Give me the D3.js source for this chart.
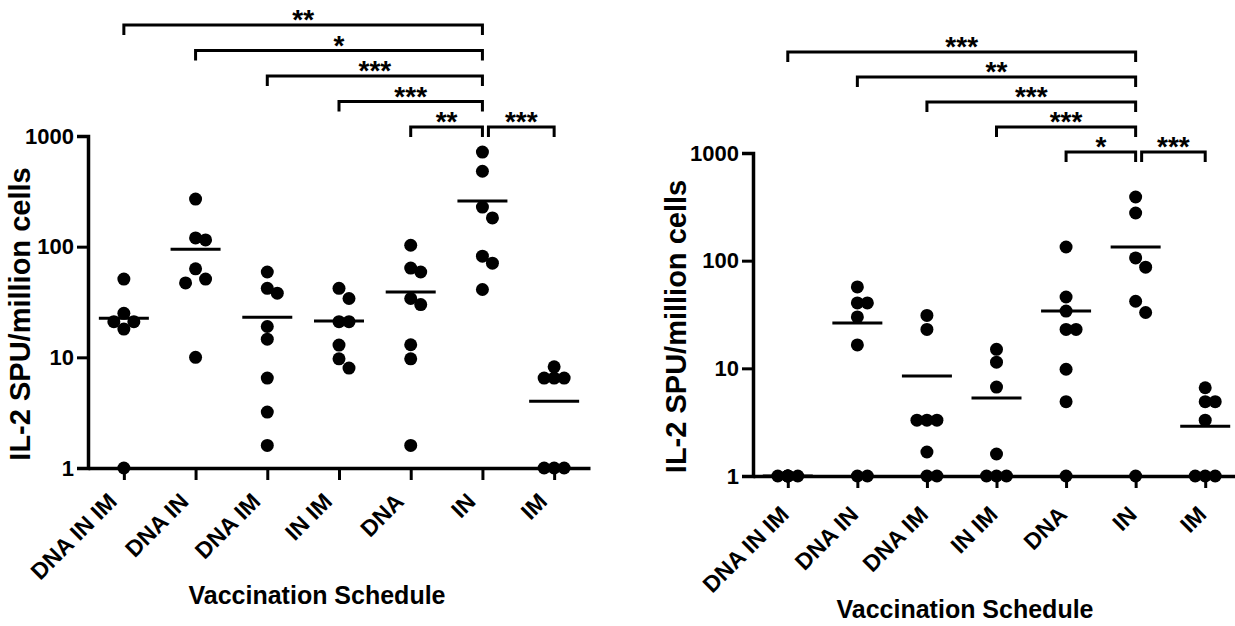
<!DOCTYPE html>
<html lang="en">
<head>
<meta charset="UTF-8">
<title>IL-2 SPU by vaccination schedule</title>
<script src="https://cdn.jsdelivr.net/npm/d3@7"></script>
<style>
  body { margin: 0; background: #fff; }
  svg { font-family: "Liberation Sans", Arial, sans-serif; font-weight: bold; }
</style>
</head>
<body>
<div id="chart"></div>
<script>
const schedules = ["DNA IN IM", "DNA IN", "DNA IM", "IN IM", "DNA", "IN", "IM"];
const yTicks = [1, 10, 100, 1000];

// left panel, IL-2 SPU/million cells per animal
const leftValues = [
  [51, 25, 21, 21, 18, 1],
  [269, 120, 115, 63, 51, 47, 10],
  [59, 42, 38, 19, 14.6, 6.5, 3.2, 1.6],
  [42, 34, 21, 21, 12.9, 9.7, 8],
  [103, 64, 59, 34, 30, 13, 9.7, 1.6],
  [716, 480, 228, 182, 82, 71, 41],
  [8.2, 6.5, 6.5, 6.5, 1, 1, 1]
];
const leftMeans = [22.6, 95, 23, 21.3, 39, 258, 4];
const leftSig = [
  ["DNA IN IM", "IN", "**"],
  ["DNA IN", "IN", "*"],
  ["DNA IM", "IN", "***"],
  ["IN IM", "IN", "***"],
  ["DNA", "IN", "**"],
  ["IN", "IM", "***"]
];

// right panel
const rightValues = [
  [1, 1, 1, 1, 1, 1],
  [57, 40.5, 40.5, 30, 16.5, 1, 1],
  [31, 23, 3.3, 3.3, 3.3, 1.67, 1, 1],
  [15, 11.4, 6.7, 1.6, 1, 1, 1],
  [134, 46, 34, 23, 23, 9.8, 4.9, 1],
  [390, 277, 106, 87, 42, 33, 1],
  [6.6, 4.9, 4.9, 3.3, 1, 1, 1]
];
const rightMeans = [1, 26.4, 8.5, 5.3, 34, 134, 2.9];
const rightSig = [
  ["DNA IN IM", "IN", "***"],
  ["DNA IN", "IN", "**"],
  ["DNA IM", "IN", "***"],
  ["IN IM", "IN", "***"],
  ["DNA", "IN", "*"],
  ["IN", "IM", "***"]
];

const svg = d3.select("#chart").append("svg")
    .attr("width", 1235)
    .attr("height", 626);

// simple dot-plot dodge, 3 columns max
function swarm(vals, y, step, minDist) {
    const placed = [];
    vals.slice().sort((a, b) => b - a).forEach(v => {
        const py = y(v);
        let best = 0, bestD = -1;
        for (const k of [0, 1, -1]) {
            const px = k * step;
            const d = placed.length ? d3.min(placed, p => Math.hypot(p.dx - px, p.py - py)) : Infinity;
            if (d >= minDist) { best = px; break; }
            if (d > bestD) { bestD = d; best = px; }
        }
        placed.push({v: v, py: py, dx: best});
    });
    return placed;
}

function drawPanel(values, means, sig, o) {
    const g = svg.append("g");

    const x = d3.scalePoint()
        .domain(schedules)
        .range([o.left, o.right])
        .padding(0.5);

    const y = d3.scaleLog()
        .domain([1, 1000])
        .range([o.bottom, o.top]);

    // points
    schedules.forEach((s, i) => {
        const pts = swarm(values[i], y, 10, 12);
        g.append("g").selectAll("circle")
            .data(pts)
            .join("circle")
            .attr("cx", d => x(s) + d.dx)
            .attr("cy", d => d.py)
            .attr("r", 6.5)
            .attr("fill", "#000");

        g.append("line")
            .attr("x1", x(s) - 25)
            .attr("x2", x(s) + 25)
            .attr("y1", y(means[i]))
            .attr("y2", y(means[i]))
            .attr("stroke", "#000")
            .attr("stroke-width", 3);
    });

    // y axis
    const yAxis = g.append("g")
        .attr("transform", `translate(${o.left},0)`)
        .call(d3.axisLeft(y).tickValues(yTicks).tickFormat(d3.format("d")).tickSize(11).tickPadding(3));
    yAxis.select(".domain").attr("stroke-width", 3.5);
    yAxis.selectAll(".tick line").attr("stroke-width", 3);
    yAxis.selectAll("text").attr("font-size", 22).attr("font-family", null).attr("fill", "#000");

    // x axis
    const xAxis = g.append("g")
        .attr("transform", `translate(0,${o.bottom})`)
        .call(d3.axisBottom(x).tickSize(12).tickSizeOuter(0));
    xAxis.select(".domain").attr("stroke-width", 3.5);
    xAxis.selectAll(".tick line").attr("stroke-width", 3);
    xAxis.selectAll("text")
        .attr("font-size", 23)
        .attr("font-family", null)
        .attr("fill", "#000")
        .attr("text-anchor", "end")
        .attr("y", 0)
        .attr("dy", 0)
        .attr("transform", `translate(${o.labelDx},${o.labelDy}) rotate(-45)`);

    // axis titles
    g.append("text")
        .attr("transform", `translate(${o.yTitleX},${(o.top + o.bottom) / 2 + 12}) rotate(-90)`)
        .attr("text-anchor", "middle")
        .attr("dy", "0.35em")
        .attr("font-size", 29)
        .text("IL-2 SPU/million cells");

    g.append("text")
        .attr("x", o.xTitleX)
        .attr("y", o.xTitleY)
        .attr("text-anchor", "middle")
        .attr("font-size", 25)
        .text("Vaccination Schedule");

    // significance brackets
    sig.forEach((b, i) => {
        const level = b[1] === "IN" ? i : sig.length - 2;
        const by = o.sigTop + level * o.sigStep;
        const x1 = x(b[0]) + (b[0] === "IN" ? 6 : 0);
        const x2 = x(b[1]);
        g.append("path")
            .attr("d", `M${x1},${by + 10}V${by}H${x2}V${by + 10}`)
            .attr("fill", "none")
            .attr("stroke", "#000")
            .attr("stroke-width", 3);
        g.append("text")
            .attr("x", (x1 + x2) / 2)
            .attr("y", by + 4)
            .attr("text-anchor", "middle")
            .attr("font-size", 28)
            .text(b[2]);
    });
}

drawPanel(leftValues, leftMeans, leftSig, {
    left: 88, right: 590, top: 136, bottom: 468,
    labelDx: -6, labelDy: 35,
    yTitleX: 20, xTitleX: 317, xTitleY: 604,
    sigTop: 25, sigStep: 25.5
});

drawPanel(rightValues, rightMeans, rightSig, {
    left: 753, right: 1240, top: 153, bottom: 476,
    labelDx: 2, labelDy: 40,
    yTitleX: 676, xTitleX: 965, xTitleY: 618,
    sigTop: 52, sigStep: 25
});
</script>
</body>
</html>
